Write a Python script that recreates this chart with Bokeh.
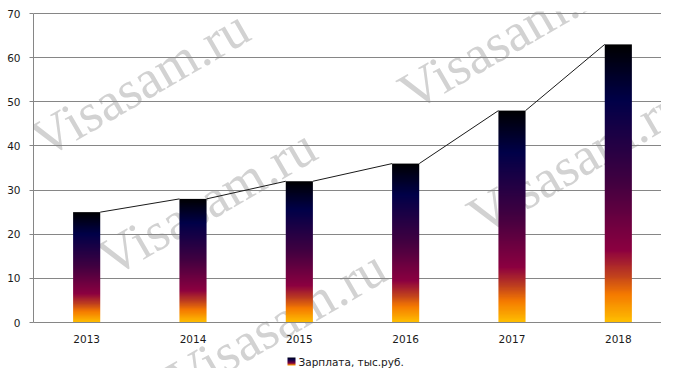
import numpy as np
from bokeh.plotting import figure
from bokeh.models import Range1d, FixedTicker, Label
from bokeh.embed import file_html
from bokeh.resources import INLINE

# ---------------- data ----------------
years = ["2013", "2014", "2015", "2016", "2017", "2018"]
salary = [25, 28, 32, 36, 48, 63]
y_ticks = [0, 10, 20, 30, 40, 50, 60, 70]
series_name = "Зарплата, тыс.руб."
watermark = "Visasam.ru"

# gradient stops of the bars (fraction of bar height from bottom, colour)
stop_pos = [0.0, 0.10, 0.17, 0.26, 0.50, 0.80, 1.0]
stop_col = ["#FFC000", "#F57A00", "#C0401E", "#8C0040", "#420040", "#000048", "#000000"]

# ---------------- geometry (canvas px) ----------------
W, H = 661, 368
FL, FR, FT, FB = 33, 661, 11, 368
Y0_PX, Y70_PX = 322, 13
PPU = (Y0_PX - Y70_PX) / 70.0
y_start = -(FB - Y0_PX) / PPU
y_end = 70 + (Y70_PX - FT) / PPU
NCAT = len(years)
XPU = 106.33
x_end = (FR - FL) / XPU
BAR_W = 0.255


def px_to_data(cx, cy):
    return (cx - FL) / XPU, (Y0_PX - cy) / PPU


def hex2rgb(h):
    h = h.lstrip("#")
    return [int(h[i:i + 2], 16) for i in (0, 2, 4)]


stop_rgb = [hex2rgb(c) for c in stop_col]


def grad_image(n, cols=2):
    img = np.empty((n, cols), dtype=np.uint32)
    view = img.view(dtype=np.uint8).reshape((n, cols, 4))
    f = (np.arange(n) + 0.5) / n
    for j in range(3):
        view[:, :, j] = np.round(np.interp(f, stop_pos, [c[j] for c in stop_rgb]))[:, None]
    view[:, :, 3] = 255
    return img


p = figure(width=W, height=H, x_range=Range1d(0, x_end), y_range=Range1d(y_start, y_end),
           output_backend="svg", toolbar_location=None,
           min_border_left=FL, min_border_right=W - FR, min_border_top=FT, min_border_bottom=H - FB,
           outline_line_color=None, background_fill_color="white", border_fill_color="white")

# ---------------- watermarks (behind everything) ----------------
wm_pos = [(35, 143), (403, 96), (102, 262), (472, 220), (172, 383), (-195, 446)]
for cx, cy in wm_pos:
    dx, dy = px_to_data(cx, cy)
    p.add_layout(Label(x=dx, y=dy, text=watermark, angle=30, angle_units="deg",
                       text_font="Liberation Serif", text_font_size="54px",
                       text_color="#d2d2d2", text_align="left", text_baseline="alphabetic",
                       level="image"))

# ---------------- gradient bars ----------------
bar_img = grad_image(300)
p.image_rgba(image=[bar_img] * NCAT,
             x=[i + 0.5 - BAR_W / 2 for i in range(NCAT)], y=[0] * NCAT,
             dw=[BAR_W] * NCAT, dh=salary)

# ---------------- connecting line (corner to corner) ----------------
x0 = [i + 0.5 + BAR_W / 2 for i in range(NCAT - 1)]
x1 = [i + 1.5 - BAR_W / 2 for i in range(NCAT - 1)]
p.segment(x0=x0, y0=salary[:-1], x1=x1, y1=salary[1:], line_color="#1a1a1a", line_width=1)

# ---------------- axes & grid ----------------
xa = p.xaxis[0]
xa.ticker = FixedTicker(ticks=[i + 0.5 for i in range(NCAT)])
xa.major_label_overrides = {i + 0.5: y for i, y in enumerate(years)}
xa.fixed_location = 0
xa.axis_line_color = "#868686"
xa.major_tick_line_color = None
xa.minor_tick_line_color = None
xa.major_tick_out = 0
xa.major_tick_in = 0
xa.major_label_standoff = 12
xa.major_label_text_font = "DejaVu Sans"
xa.major_label_text_font_size = "10.5px"
xa.major_label_text_color = "#1a1a1a"

ya = p.yaxis[0]
ya.ticker = FixedTicker(ticks=y_ticks)
ya.bounds = (0, 70)
ya.axis_line_color = "#868686"
ya.major_tick_line_color = "#868686"
ya.minor_tick_line_color = None
ya.major_tick_out = 4
ya.major_tick_in = 0
ya.major_label_standoff = 9
ya.major_label_text_font = "DejaVu Sans"
ya.major_label_text_font_size = "10.5px"
ya.major_label_text_color = "#1a1a1a"

p.xgrid.visible = False
p.ygrid.ticker = FixedTicker(ticks=y_ticks)
p.ygrid.grid_line_color = "#868686"
p.ygrid.grid_line_width = 1

# ---------------- legend ----------------
lx0, ly0 = px_to_data(287, 365)
lx1, ly1 = px_to_data(295, 357)
p.image_rgba(image=[grad_image(40)], x=[lx0], y=[ly0], dw=[lx1 - lx0], dh=[ly1 - ly0])
tx, ty = px_to_data(298, 361)
p.add_layout(Label(x=tx, y=ty, text=series_name, text_font="DejaVu Sans",
                   text_font_size="10.5px", text_color="#1a1a1a",
                   text_align="left", text_baseline="middle"))

open("out.html", "w").write(file_html(p, INLINE))
